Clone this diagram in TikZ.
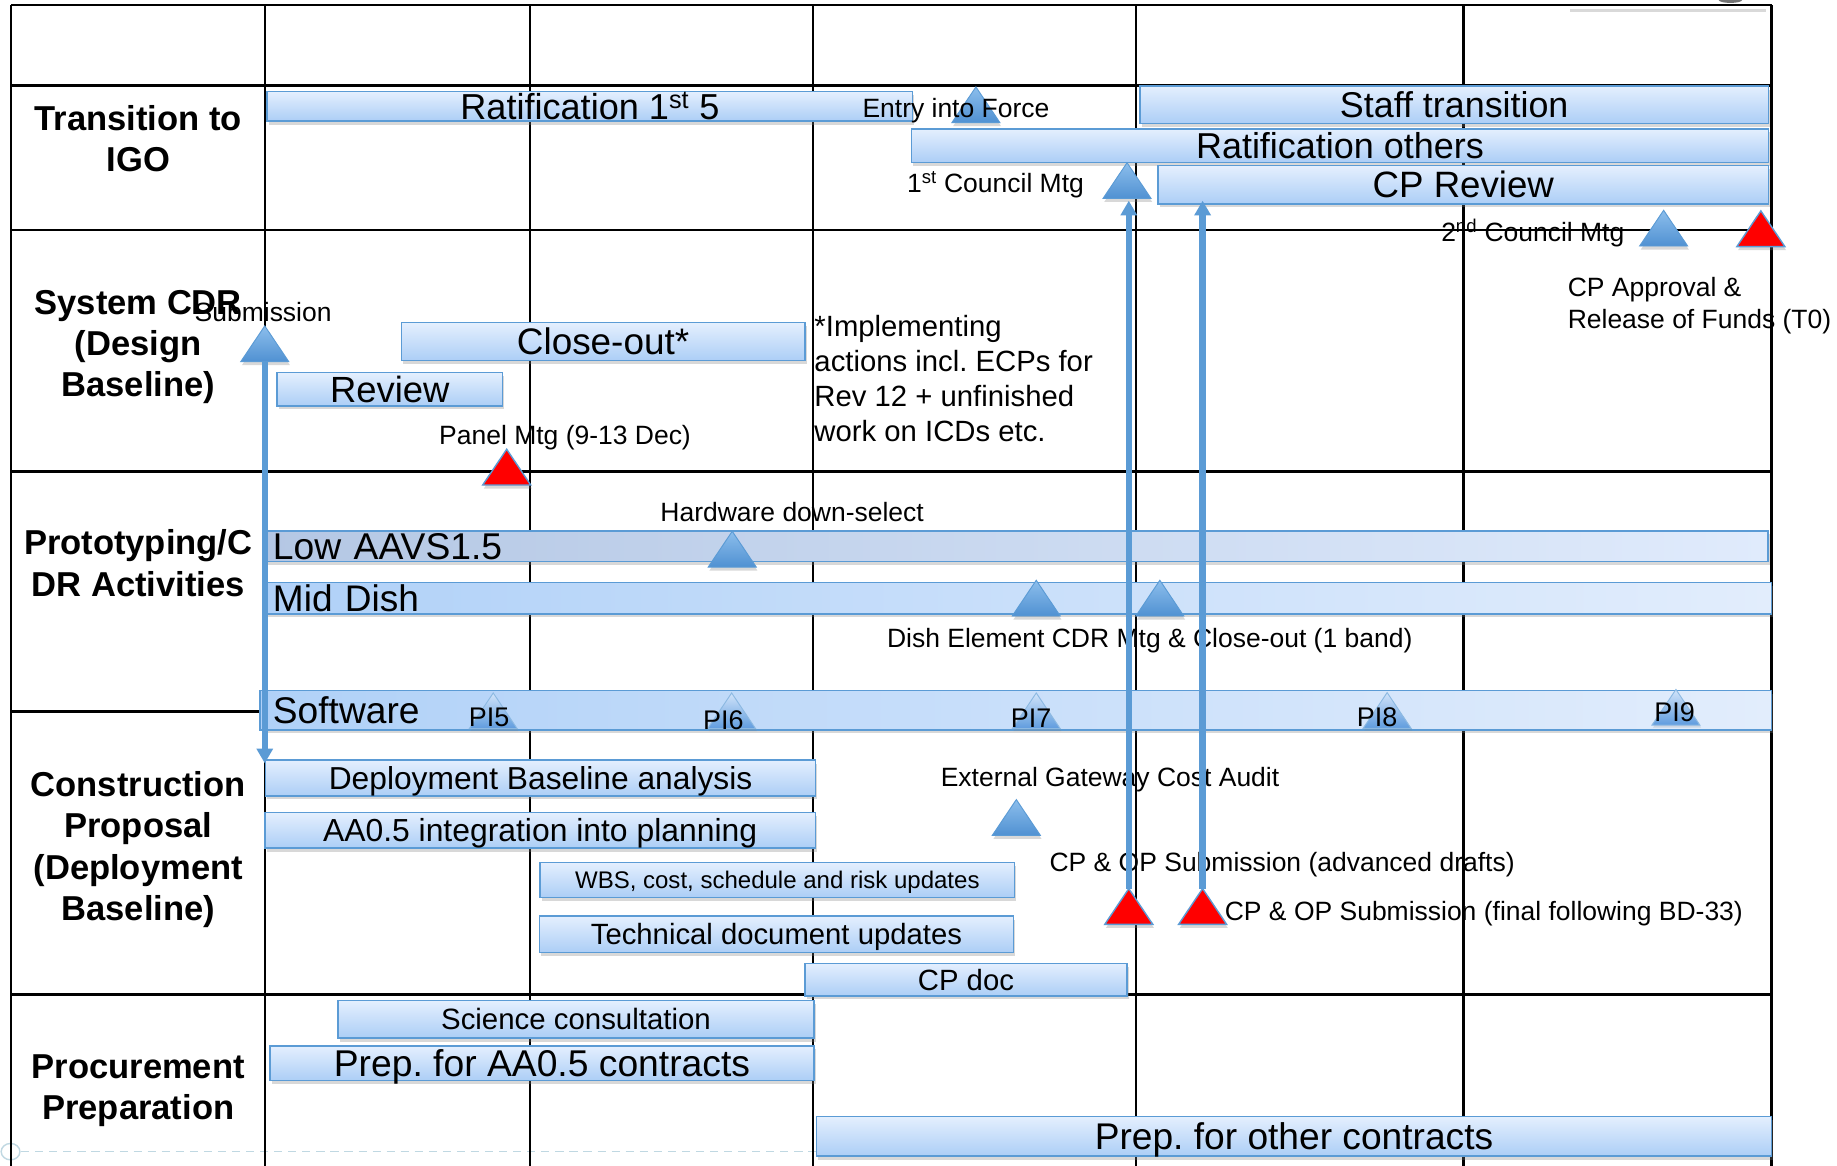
\documentclass[tikz,border=0pt]{standalone}
\usepackage{fontspec}
\setmainfont{Liberation Sans}
\usetikzlibrary{arrows.meta,shadows}
\definecolor{msblue}{RGB}{91,155,213}
\definecolor{barTop}{RGB}{228,239,254}
\definecolor{barBot}{RGB}{172,206,246}
\definecolor{lowL}{RGB}{180,199,228}
\definecolor{lowR}{RGB}{224,235,252}
\definecolor{midL}{RGB}{176,209,248}
\definecolor{midR}{RGB}{226,237,252}
\definecolor{msTop}{RGB}{140,190,236}
\definecolor{msBot}{RGB}{80,145,210}
\definecolor{piTop}{RGB}{210,228,250}
\definecolor{piBot}{RGB}{95,156,222}
\definecolor{dashc}{RGB}{192,216,226}
\frenchspacing
\begin{document}
\begin{tikzpicture}[x=1pt,y=-1pt,
  gv/.style={line width=2pt,black},
  gh/.style={line width=2.4pt,black},
  fs/.code={\pgfmathsetmacro\myTH{0.716*#1}\edef\myDo{\noexpand\tikzset{font=\noexpand\fontsize{#1}{#1}\noexpand\selectfont,text height=\myTH pt}}\myDo},
  bar/.style={rectangle,draw=msblue,line width=1.3pt,top color=barTop,bottom color=barBot,
    inner sep=0pt,text depth=0pt,
    drop shadow={shadow xshift=1.5pt,shadow yshift=-3pt,opacity=0.3}},
  hlow/.style={left color=lowL,right color=lowR},
  hmid/.style={left color=midL,right color=midR},
  rowlab/.style={font=\fontsize{29.5}{35.3}\selectfont\bfseries,align=center,anchor=north,inner sep=0pt},
  lab/.style={font=\fontsize{22.6}{27.2}\selectfont,inner sep=0pt},
  pil/.style={font=\fontsize{23}{27}\selectfont,inner sep=0pt,anchor=base west},
  note/.style={font=\fontsize{25}{30}\selectfont,inner sep=0pt,align=left,anchor=north west},
  msb/.style={top color=msTop,bottom color=msBot,draw=msblue,line width=0.8pt,
    drop shadow={shadow xshift=1pt,shadow yshift=-3pt,opacity=0.3}},
  msr/.style={fill=red,draw=msblue,line width=1.2pt,
    drop shadow={shadow xshift=1pt,shadow yshift=-3pt,opacity=0.3}},
  mspi/.style={top color=piTop,bottom color=piBot,draw=msblue!70,line width=0.8pt,
    drop shadow={shadow xshift=1pt,shadow yshift=-2pt,opacity=0.2}},
  ms/.pic={\path[#1] (-20.5,0) -- (0,-30.5) -- (20.5,0) -- cycle;
           \coordinate (-apex) at (0,-30.5); \coordinate (-base) at (0,0);},
  conn/.style={draw=msblue,line width=5.5pt,-{Triangle[length=12.5pt,width=13.5pt]}}
]
\fill[white] (0,0) rectangle (1568,995);
\useasboundingbox (0,0) rectangle (1568,995);

% faint artefacts
\draw[dashc,line width=1.3pt,dash pattern=on 7pt off 5pt] (18,983) -- (697,983);
\draw[dashc,line width=1.2pt] (9,983) ellipse (8pt and 7pt);
\draw[black!15,line width=3pt] (1340,9) -- (1507,9);
\fill[black!55] (1477,0) ellipse (10pt and 2.5pt);

% grid
\foreach \x in {9.5,226.4,452.4,693.8,969.6,1249.2,1512.2}
  \draw[gv] (\x,4.3) -- (\x,995);
\foreach \y in {4.3,73.1,196.3,402.6,607.4,848.7}
  \draw[gh] (9.5,\y) -- (1512.2,\y);

% row labels
\node[rowlab] (r1) at (118,89.9) {Transition to\\IGO};
\node[rowlab] (r2) at (118,247.3) {System CDR\\(Design\\Baseline)};
\node[rowlab] (r3) at (118,452) {Prototyping/C\\DR Activities};
\node[rowlab] (r4) at (118,658.3) {Construction\\Proposal\\(Deployment\\Baseline)};
\node[rowlab] (r5) at (118,899.8) {Procurement\\Preparation};

% bars
\node[bar,fs=30.8,minimum width=551pt,minimum height=25.1pt] (rat1) at (503.5,90.75) {Ratification 1\textsuperscript{st} 5};
\node[bar,fs=30.6,minimum width=536.5pt,minimum height=31.9pt] (staff) at (1241.25,89.35) {Staff transition};
\node[bar,fs=30.7,minimum width=731.5pt,minimum height=28.6pt] (ratoth) at (1143.75,124.3) {Ratification others};
\node[bar,fs=31.3,minimum width=520.9pt,minimum height=32.6pt] (cprev) at (1249.05,157.7) {CP Review};
\node[bar,fs=31.5,minimum width=344.5pt,minimum height=32.5pt] (closeout) at (514.75,291.65) {Close-out*};
\node[bar,fs=31.1,minimum width=192.5pt,minimum height=28.5pt] (review) at (332.75,332.25) {Review};
\node[bar,hlow,fs=31.8,minimum width=1283.5pt,minimum height=26.2pt,text width=1268.5pt,inner xsep=7.5pt,align=left] (low) at (867.25,466.3) {Low AAVS1.5};
\node[bar,hmid,fs=31.6,minimum width=1286.5pt,minimum height=26.7pt,text width=1271.5pt,inner xsep=7.5pt,align=left] (mid) at (868.75,510.65) {Mid Dish};
\node[bar,hmid,fs=31.7,minimum width=1290pt,minimum height=33.5pt,text width=1268pt,inner xsep=11pt,align=left] (sw) at (867,606.25) {Software};
\node[bar,fs=27.1,minimum width=469.2pt,minimum height=30.7pt] (dba) at (461.4,664.05) {Deployment Baseline analysis};
\node[bar,fs=27.2,minimum width=470pt,minimum height=30.4pt] (aa05) at (461,708.8) {AA0.5 integration into planning};
\node[bar,fs=20.5,minimum width=405pt,minimum height=30pt] (wbs) at (663.5,751) {WBS, cost, schedule and risk updates};
\node[bar,fs=25,minimum width=404.5pt,minimum height=31.1pt] (tdu) at (662.75,797.45) {Technical document updates};
\node[bar,fs=25,minimum width=275pt,minimum height=27.8pt] (cpdoc) at (824.5,836.1) {CP doc};
\node[bar,fs=25.1,minimum width=406.3pt,minimum height=32pt] (sci) at (491.65,870) {Science consultation};
\node[bar,fs=31.8,minimum width=464.4pt,minimum height=29.6pt] (prepaa) at (462.6,907.6) {Prep. for AA0.5 contracts};
\node[bar,fs=31.7,minimum width=815pt,minimum height=33.7pt] (prepoth) at (1104.5,969.85) {Prep. for other contracts};

% milestones
\pic (tEntry) at (833,104.7) {ms=msb};
\pic (tCou1) at (962,169.4) {ms=msb};
\pic (tCou2) at (1420,210) {ms=msb};
\pic (tT0) at (1503,210.5) {ms=msr};
\pic (tSub) at (226,308.7) {ms=msb};
\pic (tPanel) at (432.5,414) {ms=msr};
\pic (tHw) at (625,484) {ms=msb};
\pic (tDish1) at (884.5,525.8) {ms=msb};
\pic (tDish2) at (990,525.8) {ms=msb};
\pic (tExt) at (867.5,713) {ms=msb};
\pic (tCp1) at (963.5,789) {ms=msr};
\pic (tCp2) at (1026.5,789) {ms=msr};
\pic (tPI5) at (421,622) {ms=mspi};
\pic (tPI6) at (624.5,622) {ms=mspi};
\pic (tPI7) at (884.5,622) {ms=mspi};
\pic (tPI8) at (1184,621.7) {ms=mspi};
\pic (tPI9) at (1430.5,619) {ms=mspi};

% labels
\node[lab,anchor=base west] (lEntry) at (736,100.7) {Entry into Force};
\node[lab,anchor=base west] (lCou1) at (774,164.5) {1\textsuperscript{st} Council Mtg};
\node[lab,anchor=base west] (lCou2) at (1230,206) {2\textsuperscript{nd} Council Mtg};
\node[lab,anchor=north west,align=left] (lT0) at (1338,236.5) {CP Approval \&\\Release of Funds (T0)};
\node[lab,anchor=base west] (lSub) at (166,274.6) {Submission};
\node[lab,anchor=base west] (lPanel) at (374.7,379) {Panel Mtg (9-13 Dec)};
\node[note] (lNote) at (695,268.8) {*Implementing\\actions incl. ECPs for\\Rev 12 + unfinished\\work on ICDs etc.};
\node[lab,anchor=base west] (lHw) at (563.5,445) {Hardware down-select};
\node[lab,anchor=base west] (lDish) at (757,552.5) {Dish Element CDR Mtg \& Close-out (1 band)};
\node[pil] (lPI5) at (400,620) {PI5};
\node[pil] (lPI6) at (600,623) {PI6};
\node[pil] (lPI7) at (862.6,621) {PI7};
\node[pil] (lPI8) at (1158,620) {PI8};
\node[pil] (lPI9) at (1412,615.5) {PI9};
\node[lab,anchor=base west] (lExt) at (802.8,671.7) {External Gateway Cost Audit};
\node[lab,anchor=base west] (lCpa) at (895.7,744) {CP \& OP Submission (advanced drafts)};
\node[lab,anchor=base west] (lCpf) at (1045.3,785.8) {CP \& OP Submission (final following BD-33)};

% connectors
\coordinate (subEnd) at (226,651.5);
\coordinate (cou1Tip) at (963.5,171.3);
\coordinate (cprevTip) at (1026.5,171.3);
\draw[conn] (tSub-base) -- (subEnd);
\draw[conn] (tCp1-apex) -- (cou1Tip);
\draw[conn] (tCp2-apex) -- (cprevTip);
\end{tikzpicture}
\end{document}
